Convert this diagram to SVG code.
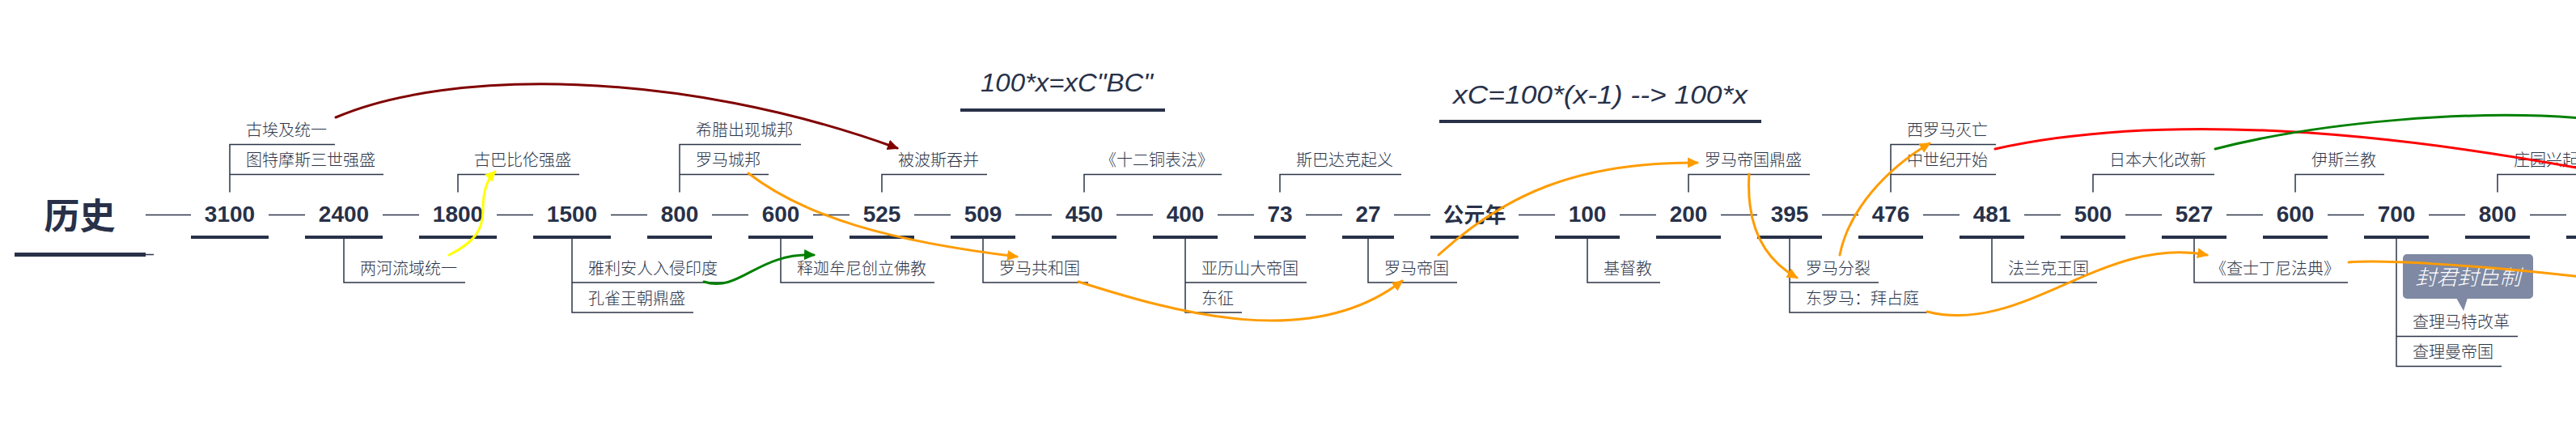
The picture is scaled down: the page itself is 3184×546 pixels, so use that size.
<svg xmlns="http://www.w3.org/2000/svg" width="3184" height="546" viewBox="0 0 3184 546">
<style>
.lbl{font-family:"Noto Sans CJK SC","Liberation Sans",sans-serif;font-size:20px;font-weight:300;fill:#2b3448}
.num{font-family:"Liberation Sans","Noto Sans CJK SC",sans-serif;font-size:28px;font-weight:bold;fill:#283148;text-anchor:middle}
.cjk{font-family:"Noto Sans CJK SC",sans-serif;font-size:26px;font-weight:bold;fill:#283148;text-anchor:middle}
.ln{stroke:#2b3448;stroke-width:1.5;fill:none}
.bar{fill:#283148}
.title{font-family:"Liberation Sans","Noto Sans CJK SC",sans-serif;font-size:32px;font-style:italic;fill:#283148}
.rel{fill:none;stroke-width:3;stroke-linecap:round}
</style>
<defs>
<marker id="aDR" markerUnits="userSpaceOnUse" markerWidth="16" markerHeight="14" refX="12" refY="6.5" orient="auto"><path d="M0,0 L14,6.5 L0,13 z" fill="#800000"/></marker>
<marker id="aY" markerUnits="userSpaceOnUse" markerWidth="16" markerHeight="14" refX="12" refY="6.5" orient="auto"><path d="M0,0 L14,6.5 L0,13 z" fill="#ffff00"/></marker>
<marker id="aG" markerUnits="userSpaceOnUse" markerWidth="16" markerHeight="14" refX="12" refY="6.5" orient="auto"><path d="M0,0 L14,6.5 L0,13 z" fill="#008000"/></marker>
<marker id="aO" markerUnits="userSpaceOnUse" markerWidth="16" markerHeight="14" refX="12" refY="6.5" orient="auto"><path d="M0,0 L14,6.5 L0,13 z" fill="#ff9c00"/></marker>
</defs>
<rect width="3184" height="546" fill="#ffffff"/>

<g id="timeline-lines">
<line class="ln" x1="180" y1="265.5" x2="236" y2="265.5"/>
<line class="ln" x1="332" y1="265.5" x2="377" y2="265.5"/>
<line class="ln" x1="473" y1="265.5" x2="518" y2="265.5"/>
<line class="ln" x1="614" y1="265.5" x2="659" y2="265.5"/>
<line class="ln" x1="755" y1="265.5" x2="800" y2="265.5"/>
<line class="ln" x1="880" y1="265.5" x2="925" y2="265.5"/>
<line class="ln" x1="1005" y1="265.5" x2="1050" y2="265.5"/>
<line class="ln" x1="1130" y1="265.5" x2="1175" y2="265.5"/>
<line class="ln" x1="1255" y1="265.5" x2="1300" y2="265.5"/>
<line class="ln" x1="1380" y1="265.5" x2="1425" y2="265.5"/>
<line class="ln" x1="1505" y1="265.5" x2="1550" y2="265.5"/>
<line class="ln" x1="1614" y1="265.5" x2="1659" y2="265.5"/>
<line class="ln" x1="1723" y1="265.5" x2="1768" y2="265.5"/>
<line class="ln" x1="1877" y1="265.5" x2="1922" y2="265.5"/>
<line class="ln" x1="2002" y1="265.5" x2="2047" y2="265.5"/>
<line class="ln" x1="2127" y1="265.5" x2="2172" y2="265.5"/>
<line class="ln" x1="2252" y1="265.5" x2="2297" y2="265.5"/>
<line class="ln" x1="2377" y1="265.5" x2="2422" y2="265.5"/>
<line class="ln" x1="2502" y1="265.5" x2="2547" y2="265.5"/>
<line class="ln" x1="2627" y1="265.5" x2="2672" y2="265.5"/>
<line class="ln" x1="2752" y1="265.5" x2="2797" y2="265.5"/>
<line class="ln" x1="2877" y1="265.5" x2="2922" y2="265.5"/>
<line class="ln" x1="3002" y1="265.5" x2="3047" y2="265.5"/>
<line class="ln" x1="3127" y1="265.5" x2="3172" y2="265.5"/>
</g>

<g id="root">
<text x="98.5" y="283" font-family="Noto Sans CJK SC, sans-serif" font-size="44" font-weight="bold" fill="#283148" text-anchor="middle">历史</text>
<rect class="bar" x="18" y="312" width="162" height="5"/>
<line class="ln" x1="180" y1="314.5" x2="190" y2="314.5"/>
</g>

<g id="title1">
<text class="title" x="1212" y="113" textLength="213" lengthAdjust="spacingAndGlyphs">100*x=xC"BC"</text>
<rect class="bar" x="1187" y="134" width="253" height="4"/>
</g>
<g id="title2">
<text class="title" x="1796" y="128" textLength="364" lengthAdjust="spacingAndGlyphs">xC=100*(x-1) --&gt; 100*x</text>
<rect class="bar" x="1779" y="148" width="398" height="4"/>
</g>

<g id="n3100">
<text class="num" x="284" y="274">3100</text><rect class="bar" x="236" y="291" width="96" height="4"/>
<path class="ln" d="M284,237.5 V178.5 H414 M284,215.5 H474"/>
<text class="lbl" x="304" y="168">古埃及统一</text>
<text class="lbl" x="304" y="205">图特摩斯三世强盛</text>
</g>
<g id="n2400">
<text class="num" x="425" y="274">2400</text><rect class="bar" x="377" y="291" width="96" height="4"/>
<path class="ln" d="M425,295 V349 H575"/>
<text class="lbl" x="445" y="338.5">两河流域统一</text>
</g>
<g id="n1800">
<text class="num" x="566" y="274">1800</text><rect class="bar" x="518" y="291" width="96" height="4"/>
<path class="ln" d="M566,237.5 V215.5 H716"/>
<text class="lbl" x="586" y="205">古巴比伦强盛</text>
</g>
<g id="n1500">
<text class="num" x="707" y="274">1500</text><rect class="bar" x="659" y="291" width="96" height="4"/>
<path class="ln" d="M707,295 V386 H857 M707,349 H897"/>
<text class="lbl" x="727" y="338.5">雅利安人入侵印度</text>
<text class="lbl" x="727" y="375.5">孔雀王朝鼎盛</text>
</g>
<g id="n800bc">
<text class="num" x="840" y="274">800</text><rect class="bar" x="800" y="291" width="80" height="4"/>
<path class="ln" d="M840,237.5 V178.5 H990 M840,215.5 H950"/>
<text class="lbl" x="860" y="168">希腊出现城邦</text>
<text class="lbl" x="860" y="205">罗马城邦</text>
</g>
<g id="n600bc">
<text class="num" x="965" y="274">600</text><rect class="bar" x="925" y="291" width="80" height="4"/>
<path class="ln" d="M965,295 V349 H1155"/>
<text class="lbl" x="985" y="338.5">释迦牟尼创立佛教</text>
</g>
<g id="n525">
<text class="num" x="1090" y="274">525</text><rect class="bar" x="1050" y="291" width="80" height="4"/>
<path class="ln" d="M1090,237.5 V215.5 H1220"/>
<text class="lbl" x="1110" y="205">被波斯吞并</text>
</g>
<g id="n509">
<text class="num" x="1215" y="274">509</text><rect class="bar" x="1175" y="291" width="80" height="4"/>
<path class="ln" d="M1215,295 V349 H1345"/>
<text class="lbl" x="1235" y="338.5">罗马共和国</text>
</g>
<g id="n450">
<text class="num" x="1340" y="274">450</text><rect class="bar" x="1300" y="291" width="80" height="4"/>
<path class="ln" d="M1340,237.5 V215.5 H1510"/>
<text class="lbl" x="1360" y="205">《十二铜表法》</text>
</g>
<g id="n400">
<text class="num" x="1465" y="274">400</text><rect class="bar" x="1425" y="291" width="80" height="4"/>
<path class="ln" d="M1465,295 V386 H1535 M1465,349 H1615"/>
<text class="lbl" x="1485" y="338.5">亚历山大帝国</text>
<text class="lbl" x="1485" y="375.5">东征</text>
</g>
<g id="n73">
<text class="num" x="1582" y="274">73</text><rect class="bar" x="1550" y="291" width="64" height="4"/>
<path class="ln" d="M1582,237.5 V215.5 H1732"/>
<text class="lbl" x="1602" y="205">斯巴达克起义</text>
</g>
<g id="n27">
<text class="num" x="1691" y="274">27</text><rect class="bar" x="1659" y="291" width="64" height="4"/>
<path class="ln" d="M1691,295 V349 H1801"/>
<text class="lbl" x="1711" y="338.5">罗马帝国</text>
</g>
<g id="n0">
<text class="cjk" x="1822.5" y="275">公元年</text><rect class="bar" x="1768" y="291" width="109" height="4"/>
</g>
<g id="n100">
<text class="num" x="1962" y="274">100</text><rect class="bar" x="1922" y="291" width="80" height="4"/>
<path class="ln" d="M1962,295 V349 H2052"/>
<text class="lbl" x="1982" y="338.5">基督教</text>
</g>
<g id="n200">
<text class="num" x="2087" y="274">200</text><rect class="bar" x="2047" y="291" width="80" height="4"/>
<path class="ln" d="M2087,237.5 V215.5 H2237"/>
<text class="lbl" x="2107" y="205">罗马帝国鼎盛</text>
</g>
<g id="n395">
<text class="num" x="2212" y="274">395</text><rect class="bar" x="2172" y="291" width="80" height="4"/>
<path class="ln" d="M2212,295 V386 H2382 M2212,349 H2322"/>
<text class="lbl" x="2232" y="338.5">罗马分裂</text>
<text class="lbl" x="2232" y="375.5">东罗马：拜占庭</text>
</g>
<g id="n476">
<text class="num" x="2337" y="274">476</text><rect class="bar" x="2297" y="291" width="80" height="4"/>
<path class="ln" d="M2337,237.5 V178.5 H2467 M2337,215.5 H2467"/>
<text class="lbl" x="2357" y="168">西罗马灭亡</text>
<text class="lbl" x="2357" y="205">中世纪开始</text>
</g>
<g id="n481">
<text class="num" x="2462" y="274">481</text><rect class="bar" x="2422" y="291" width="80" height="4"/>
<path class="ln" d="M2462,295 V349 H2592"/>
<text class="lbl" x="2482" y="338.5">法兰克王国</text>
</g>
<g id="n500">
<text class="num" x="2587" y="274">500</text><rect class="bar" x="2547" y="291" width="80" height="4"/>
<path class="ln" d="M2587,237.5 V215.5 H2737"/>
<text class="lbl" x="2607" y="205">日本大化改新</text>
</g>
<g id="n527">
<text class="num" x="2712" y="274">527</text><rect class="bar" x="2672" y="291" width="80" height="4"/>
<path class="ln" d="M2712,295 V349 H2902"/>
<text class="lbl" x="2732" y="338.5">《查士丁尼法典》</text>
</g>
<g id="n600ad">
<text class="num" x="2837" y="274">600</text><rect class="bar" x="2797" y="291" width="80" height="4"/>
<path class="ln" d="M2837,237.5 V215.5 H2947"/>
<text class="lbl" x="2857" y="205">伊斯兰教</text>
</g>
<g id="n700">
<text class="num" x="2962" y="274">700</text><rect class="bar" x="2922" y="291" width="80" height="4"/>
<path class="ln" d="M2962,295 V452.5 H3092 M2962,415.5 H3112"/>
<text class="lbl" x="2982" y="405">查理马特改革</text>
<text class="lbl" x="2982" y="442">查理曼帝国</text>
<g id="callout">
<rect x="2970" y="314" width="161" height="55" rx="5" fill="#7f89a3"/>
<polygon points="3036,368 3050,368 3045,384" fill="#7f89a3"/>
<text x="3050.5" y="352" font-family="Noto Sans CJK SC, sans-serif" font-size="26" font-weight="300" font-style="italic" fill="#ffffff" text-anchor="middle">封君封臣制</text>
</g>
</g>
<g id="n800ad">
<text class="num" x="3087" y="274">800</text><rect class="bar" x="3047" y="291" width="80" height="4"/>
<path class="ln" d="M3087,237.5 V215.5 H3197"/>
<text class="lbl" x="3107" y="205">庄园兴起</text>
</g>
<g id="nnext">
<rect class="bar" x="3172" y="291" width="80" height="4"/>
</g>

<g id="connectors">
<path class="rel" stroke="#800000" d="M415,145 C555,85 840,85 1109,183" marker-end="url(#aDR)"/>
<path class="rel" stroke="#ffff00" d="M555,315 C585,300 597,285 597,260 C597,235 602,222 612,212" marker-end="url(#aY)"/>
<path class="rel" stroke="#008000" d="M870,348 C915,362 935,312 1006,315" marker-end="url(#aG)"/>
<path class="rel" stroke="#ff9c00" d="M925,214 C995,268 1100,298 1257,317" marker-end="url(#aO)"/>
<path class="rel" stroke="#ff9c00" d="M1333,348 C1450,385 1620,435 1733,347" marker-end="url(#aO)"/>
<path class="rel" stroke="#ff9c00" d="M1778,315 C1860,240 1950,200 2098,201" marker-end="url(#aO)"/>
<path class="rel" stroke="#ff9c00" d="M2162,215 C2158,280 2180,320 2221,343" marker-end="url(#aO)"/>
<path class="rel" stroke="#ff9c00" d="M2274,315 C2285,260 2330,210 2385,177" marker-end="url(#aO)"/>
<path class="rel" stroke="#ff9c00" d="M2382,385 C2500,415 2600,290 2728,315" marker-end="url(#aO)"/>
<path class="rel" stroke="#ff9c00" d="M2903,324 C2940,321 3050,326 3190,342"/>
<path class="rel" stroke="#ff0000" d="M2466,184 C2620,150 2850,145 3200,210"/>
<path class="rel" stroke="#008000" d="M2738,184 C2870,150 3060,135 3190,146"/>
</g>
</svg>
